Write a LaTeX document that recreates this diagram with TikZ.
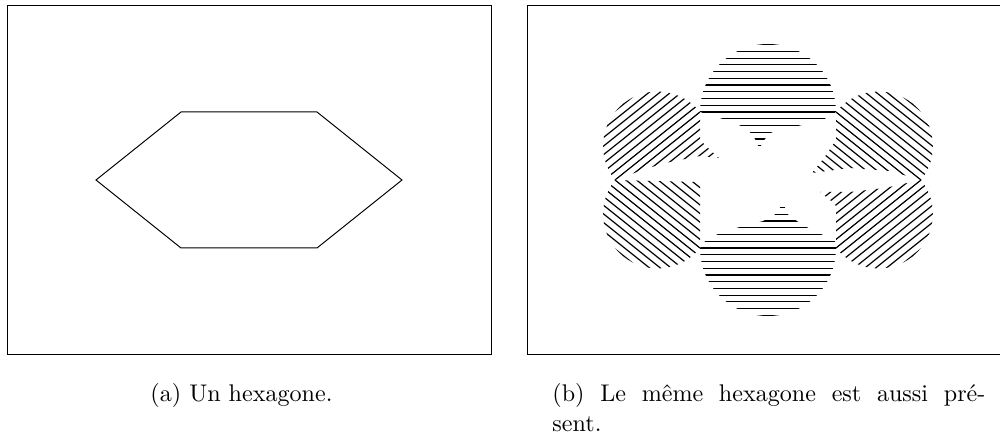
\documentclass[tikz,border=0pt]{standalone}
\usepackage{fontspec}
\begin{document}
\begin{tikzpicture}[x=0.4545pt,y=-0.4545pt,
  frame/.style={draw=black,line width=0.45pt},
  hexa/.style={draw=black,line width=0.45pt,line join=miter},
  hatch/.style={draw=black,line width=0.55pt},
  captext/.style={anchor=base west,inner sep=0pt,font=\fontsize{10.95}{13.6}\selectfont}]
\useasboundingbox (0,0) rectangle (1000,437);
% left panel
\draw[frame] (7,6) rectangle (491,354);
\draw[hexa] (96,180) -- (181,112) -- (317,112) -- (402,180) -- (317,248) -- (181,248) -- cycle;
% right panel
\draw[frame] (527,6) rectangle (1010,354);
% top circle, horizontal lines
\begin{scope}
\clip (700,112) arc[start angle=180,end angle=360,radius=68]
  -- (825,118.7) -- (800,125.5) -- (772,132.2) -- (765,138.9) -- (761,145.6) -- (760,149)
  -- (758,145.6) -- (755,138.9) -- (750,132.2) -- (740,125.5) -- (722,118.7) -- cycle;
\foreach \k in {-11,...,6} \draw[hatch] (690,{112+6.73*(\k)}) -- (846,{112+6.73*(\k)});
\end{scope}
% bottom circle, horizontal lines
\begin{scope}
\clip (836,248) arc[start angle=0,end angle=180,radius=68]
  -- (705,241.3) -- (717,234.5) -- (737,227.8) -- (763,221.1) -- (775,214.4) -- (780,207.6) -- (782.5,204)
  -- (785,207.6) -- (788,214.4) -- (797,221.1) -- (808,227.8) -- (822,234.5) -- (835,241.3) -- cycle;
\foreach \k in {-7,...,11} \draw[hatch] (690,{248+6.73*(\k)}) -- (846,{248+6.73*(\k)});
\end{scope}
% upper left circle, lines parallel to its edge
\begin{scope}
\clip (615,180) arc[start angle=141.34,end angle=321.34,radius=54.43]
  -- (700,140) -- (708,148) -- (719,158) -- (700,156) -- (670,162) -- (648,168) -- cycle;
\foreach \k in {-12,...,12}
  \draw[hatch] ({615+6.73*(\k)*0.6247-150*0.7809},{180+6.73*(\k)*0.7809+150*0.6247})
            -- ({615+6.73*(\k)*0.6247+250*0.7809},{180+6.73*(\k)*0.7809-250*0.6247});
\end{scope}
% lower left circle
\begin{scope}
\clip (700,248) arc[start angle=38.66,end angle=218.66,radius=54.43] -- (700,182) -- cycle;
\foreach \k in {-12,...,12}
  \draw[hatch] ({615+6.73*(\k)*0.6247-150*0.7809},{180-6.73*(\k)*0.7809-150*0.6247})
            -- ({615+6.73*(\k)*0.6247+250*0.7809},{180-6.73*(\k)*0.7809+250*0.6247});
\end{scope}
% upper right circle
\begin{scope}
\clip (836,112) arc[start angle=218.66,end angle=398.66,radius=54.43]
  -- (890,171) -- (850,168) -- (812,173) -- (824,158) -- (836,140) -- cycle;
\foreach \k in {-12,...,12}
  \draw[hatch] ({921-6.73*(\k)*0.6247+150*0.7809},{180+6.73*(\k)*0.7809+150*0.6247})
            -- ({921-6.73*(\k)*0.6247-250*0.7809},{180+6.73*(\k)*0.7809-250*0.6247});
\end{scope}
% lower right circle
\begin{scope}
\clip (921,180) arc[start angle=-38.66,end angle=141.34,radius=54.43]
  -- (836,206) -- (830,200) -- (820,192) -- (850,192) -- (885,188) -- cycle;
\foreach \k in {-12,...,12}
  \draw[hatch] ({921-6.73*(\k)*0.6247+150*0.7809},{180-6.73*(\k)*0.7809-150*0.6247})
            -- ({921-6.73*(\k)*0.6247-250*0.7809},{180-6.73*(\k)*0.7809+250*0.6247});
\end{scope}
% captions
\node[captext] (capa) at (150,402) {(a) Un hexagone.};
\node[captext] (capb) at (552,402) {\makebox[196.8pt][s]{(b) Le même hexagone est aussi pré-}};
\node[captext] (capc) at (552,432) {sent.};
\end{tikzpicture}
\end{document}
